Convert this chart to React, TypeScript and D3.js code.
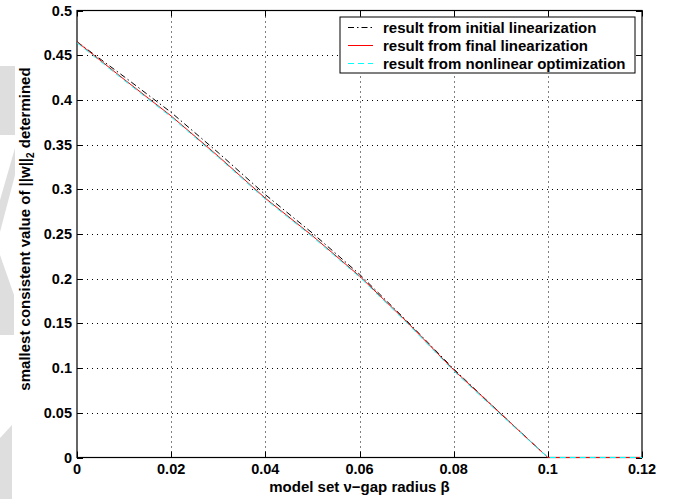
import React from 'react';
import * as d3 from 'd3';

// beta values (x) and smallest consistent ||w||_2 for each method
const beta = [0, 0.01, 0.02, 0.03, 0.04, 0.05, 0.06, 0.07, 0.08, 0.09, 0.1, 0.11, 0.12];
const initialLin = [0.465, 0.426, 0.386, 0.341, 0.294, 0.251, 0.205, 0.153, 0.099, 0.049, 0, 0, 0];
const finalLin = [0.465, 0.423, 0.382, 0.337, 0.29, 0.248, 0.203, 0.152, 0.098, 0.049, 0, 0, 0];
const nonlinOpt = [0.464, 0.422, 0.381, 0.336, 0.289, 0.247, 0.202, 0.151, 0.097, 0.048, 0, 0, 0];

const xTicks = [0, 0.02, 0.04, 0.06, 0.08, 0.1, 0.12];
const xTickLabels = ['0', '0.02', '0.04', '0.06', '0.08', '0.1', '0.12'];
const yTicks = [0, 0.05, 0.1, 0.15, 0.2, 0.25, 0.3, 0.35, 0.4, 0.45, 0.5];
const yTickLabels = ['0', '0.05', '0.1', '0.15', '0.2', '0.25', '0.3', '0.35', '0.4', '0.45', '0.5'];

const legendLabels = [
  'result from initial linearization',
  'result from final linearization',
  'result from nonlinear optimization',
];

const W = 685;
const H = 499;
const margin = { left: 77, right: 43, top: 10.5, bottom: 41.5 };
const font = '"Liberation Sans", Arial, Helvetica, sans-serif';

// faint watermark shapes at the left edge
const watermark = [
  [[0, 66], [15, 66], [15, 135], [0, 135]],
  [[15, 148], [15, 175], [0, 232], [0, 200]],
  [[0, 255], [14, 295], [14, 335], [0, 335]],
  [[0, 438], [12, 425], [12, 499], [0, 499]],
];

export default function App() {
  const x = d3.scaleLinear().domain([0, 0.12]).range([margin.left, W - margin.right]);
  const y = d3.scaleLinear().domain([0, 0.5]).range([H - margin.bottom, margin.top]);
  const [x0, x1] = x.range();
  const [y0, y1] = y.range();

  const line = (vals: number[]) =>
    d3
      .line<number>()
      .x((d, i) => x(beta[i]))
      .y((d) => y(d))(vals) || '';

  const series = [
    { vals: initialLin, color: '#000', dash: '6,3,1.5,3' },
    { vals: finalLin, color: '#ff0000', dash: '' },
    { vals: nonlinOpt, color: '#00ffff', dash: '6,4' },
  ];

  const lg = { x: 340, y: 17, w: 295, h: 56 };

  return (
    <div style={{ position: 'absolute', left: 0, top: 0 }}>
      <svg width={W} height={H} style={{ display: 'block', background: '#fff' }} fontFamily={font}>
        {watermark.map((p, i) => (
          <polygon key={i} points={p.map((q) => q.join(',')).join(' ')} fill="#dedede" />
        ))}

        {/* grid */}
        <g stroke="#000" strokeWidth={1} strokeDasharray="1,4">
          {xTicks.slice(1, -1).map((t) => (
            <line key={t} x1={Math.round(x(t)) + 0.5} x2={Math.round(x(t)) + 0.5} y1={y0} y2={y1} />
          ))}
          {yTicks.slice(1, -1).map((t) => (
            <line key={t} x1={x0} x2={x1} y1={Math.round(y(t)) + 0.5} y2={Math.round(y(t)) + 0.5} />
          ))}
        </g>

        {/* ticks */}
        <g stroke="#000" strokeWidth={1}>
          {xTicks.map((t) => {
            const px = Math.round(x(t)) + 0.5;
            return (
              <g key={t}>
                <line x1={px} x2={px} y1={y0} y2={y0 - 6} />
                <line x1={px} x2={px} y1={y1} y2={y1 + 6} />
              </g>
            );
          })}
          {yTicks.map((t) => {
            const py = Math.round(y(t)) + 0.5;
            return (
              <g key={t}>
                <line x1={x0} x2={x0 + 6} y1={py} y2={py} />
                <line x1={x1} x2={x1 - 6} y1={py} y2={py} />
              </g>
            );
          })}
        </g>

        {/* frame */}
        <rect x={x0} y={y1} width={x1 - x0} height={y0 - y1} fill="none" stroke="#000" strokeWidth={1.2} />

        {/* data */}
        {series.map((s, i) => (
          <path key={i} d={line(s.vals)} fill="none" stroke={s.color} strokeWidth={1} strokeDasharray={s.dash || undefined} />
        ))}

        {/* tick labels */}
        <g fontSize={14.5} fontWeight="bold" fill="#000">
          {xTicks.map((t, i) => (
            <text key={t} x={x(t)} y={474} textAnchor="middle">
              {xTickLabels[i]}
            </text>
          ))}
          {yTicks.map((t, i) => (
            <text key={t} x={72} y={y(t) + 5} textAnchor="end">
              {yTickLabels[i]}
            </text>
          ))}
        </g>

        {/* axis labels */}
        <text x={(x0 + x1) / 2} y={492} textAnchor="middle" fontSize={15} fontWeight="bold">
          model set ν−gap radius β
        </text>
        <text transform={`translate(30,229) rotate(-90)`} textAnchor="middle" fontSize={15} fontWeight="bold">
          smallest consistent value of ||w||
          <tspan fontSize={10} dy={4}>2</tspan>
          <tspan dy={-4}> determined</tspan>
        </text>

        {/* legend */}
        <rect x={lg.x} y={lg.y} width={lg.w} height={lg.h} fill="#fff" stroke="#000" strokeWidth={1} />
        {series.map((s, i) => {
          const ly = 27.5 + i * 18;
          return (
            <g key={i}>
              <line x1={348} x2={373} y1={ly} y2={ly} stroke={s.color} strokeWidth={1} strokeDasharray={s.dash || undefined} />
              <text x={383} y={ly + 5} fontSize={15} fontWeight="bold">
                {legendLabels[i]}
              </text>
            </g>
          );
        })}
      </svg>
    </div>
  );
}
